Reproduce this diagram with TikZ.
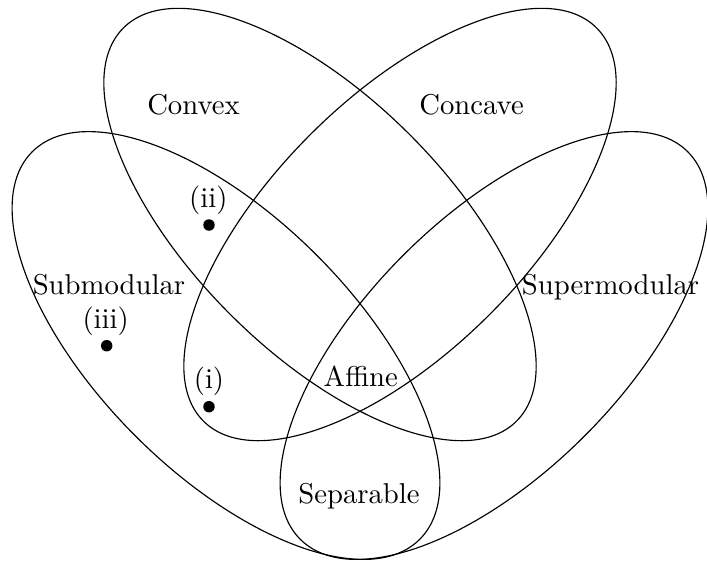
\documentclass[tikz,border=0pt]{standalone}
\begin{document}
\begin{tikzpicture}[x=0.3484pt, y=-0.3484pt,
  setline/.style={line width=0.4pt},
  setlabel/.style={inner sep=0pt},
  pointmark/.style={circle, fill=black, inner sep=0pt, minimum size=4pt}]
\useasboundingbox (0,0) rectangle (707,560);
\coordinate (cvx) at (320,224.5);
\coordinate (ccv) at (400,224.5);
\coordinate (sub) at (226,345.5);
\coordinate (sup) at (494,345.5);
\draw[setline, rotate around={-45:(cvx)}] (cvx) ellipse [x radius=278, y radius=127];
\draw[setline, rotate around={45:(ccv)}] (ccv) ellipse [x radius=278, y radius=127];
\draw[setline, rotate around={-45:(sub)}] (sub) ellipse [x radius=274, y radius=128];
\draw[setline, rotate around={45:(sup)}] (sup) ellipse [x radius=274, y radius=128];
\node[setlabel] (lcvx) at (193.5,105) {Convex};
\node[setlabel] (lccv) at (471.5,105) {Concave};
\node[setlabel] (lsub) at (109,285) {Submodular};
\node[setlabel] (lsup) at (610.5,287.5) {Supermodular};
\node[setlabel] (laff) at (360.8,376.7) {Affine};
\node[setlabel] (lsep) at (359,496.5) {Separable};
\node[pointmark] (pii) at (209,225) {};
\node[setlabel] (tii) at (208.3,200.5) {(ii)};
\node[pointmark] (piii) at (106.7,345.7) {};
\node[setlabel] (tiii) at (105.7,321.5) {(iii)};
\node[pointmark] (pi) at (209,406.7) {};
\node[setlabel] (ti) at (209,381.5) {(i)};
\end{tikzpicture}
\end{document}
